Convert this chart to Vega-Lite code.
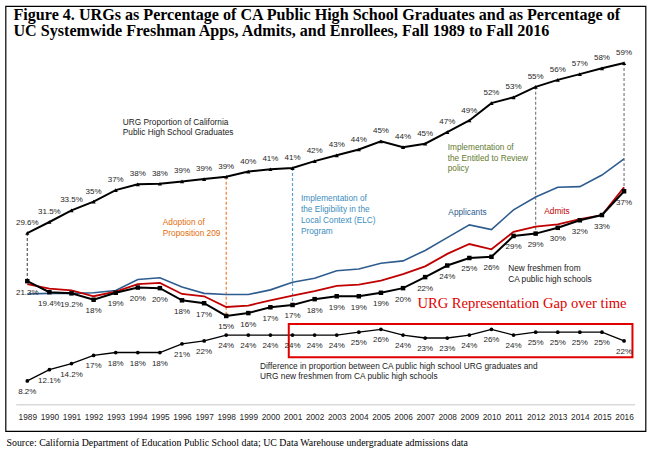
{
  "$schema": "https://vega.github.io/schema/vega-lite/v6.json",
  "width": 640,
  "height": 425,
  "autosize": {"type": "none"},
  "padding": {"left": 5.5, "top": 6, "right": 6.5, "bottom": 34},
  "background": "white",
  "config": {"view": {"stroke": "#000", "strokeWidth": 1.2}, "font": "Liberation Sans"},
  "title": {
    "text": ["Figure 4. URGs as Percentage of CA Public High School Graduates and as Percentage of", "UC Systemwide Freshman Apps, Admits, and Enrollees, Fall 1989 to Fall 2016"],
    "anchor": "start",
    "frame": "group",
    "font": "Liberation Serif",
    "fontSize": 16.1,
    "fontWeight": "bold",
    "color": "#000",
    "lineHeight": 16,
    "baseline": "top",
    "offset": -33.5,
    "dx": 8
  },
  "datasets": {
    "main": [
      {"year": 1989, "grad": 29.6, "grad_label": "29.6%", "fresh": 21.3, "fresh_label": "21.3%", "apps": 19.1, "admits": 20.8, "gap": 8.2, "gap_label": "8.2%"},
      {"year": 1990, "grad": 31.5, "grad_label": "31.5%", "fresh": 19.4, "fresh_label": "19.4%", "apps": 19.2, "admits": 20.0, "gap": 12.1, "gap_label": "12.1%"},
      {"year": 1991, "grad": 33.5, "grad_label": "33.5%", "fresh": 19.2, "fresh_label": "19.2%", "apps": 19.2, "admits": 19.7, "gap": 14.2, "gap_label": "14.2%"},
      {"year": 1992, "grad": 35, "grad_label": "35%", "fresh": 18.1, "fresh_label": "18%", "apps": 19.3, "admits": 18.7, "gap": 17, "gap_label": "17%"},
      {"year": 1993, "grad": 37, "grad_label": "37%", "fresh": 19.3, "fresh_label": "19%", "apps": 19.7, "admits": 19.5, "gap": 18, "gap_label": "18%"},
      {"year": 1994, "grad": 38, "grad_label": "38%", "fresh": 20.2, "fresh_label": "20%", "apps": 21.6, "admits": 20.8, "gap": 18, "gap_label": "18%"},
      {"year": 1995, "grad": 38.1, "grad_label": "38%", "fresh": 20.1, "fresh_label": "20%", "apps": 21.9, "admits": 21.0, "gap": 18, "gap_label": "18%"},
      {"year": 1996, "grad": 38.5, "grad_label": "39%", "fresh": 18.0, "fresh_label": "18%", "apps": 20.3, "admits": 19.1, "gap": 21, "gap_label": "21%"},
      {"year": 1997, "grad": 38.9, "grad_label": "39%", "fresh": 17.5, "fresh_label": "17%", "apps": 19.2, "admits": 18.7, "gap": 22, "gap_label": "22%"},
      {"year": 1998, "grad": 39.3, "grad_label": "39%", "fresh": 15.3, "fresh_label": "15%", "apps": 19.0, "admits": 16.85, "gap": 24, "gap_label": "24%"},
      {"year": 1999, "grad": 40.2, "grad_label": "40%", "fresh": 15.8, "fresh_label": "16%", "apps": 19.0, "admits": 17.1, "gap": 24, "gap_label": "24%"},
      {"year": 2000, "grad": 40.6, "grad_label": "41%", "fresh": 16.8, "fresh_label": "17%", "apps": 19.8, "admits": 18.0, "gap": 24, "gap_label": "24%"},
      {"year": 2001, "grad": 40.8, "grad_label": "41%", "fresh": 17.2, "fresh_label": "17%", "apps": 21.1, "admits": 18.8, "gap": 24, "gap_label": "24%"},
      {"year": 2002, "grad": 42, "grad_label": "42%", "fresh": 18.2, "fresh_label": "18%", "apps": 21.8, "admits": 19.6, "gap": 24, "gap_label": "24%"},
      {"year": 2003, "grad": 43, "grad_label": "43%", "fresh": 18.7, "fresh_label": "19%", "apps": 23.1, "admits": 20.5, "gap": 24, "gap_label": "24%"},
      {"year": 2004, "grad": 44, "grad_label": "44%", "fresh": 18.7, "fresh_label": "19%", "apps": 23.4, "admits": 20.7, "gap": 25, "gap_label": "25%"},
      {"year": 2005, "grad": 45.4, "grad_label": "45%", "fresh": 19.3, "fresh_label": "19%", "apps": 24.4, "admits": 21.4, "gap": 26, "gap_label": "26%"},
      {"year": 2006, "grad": 44.4, "grad_label": "44%", "fresh": 20.1, "fresh_label": "20%", "apps": 24.8, "admits": 22.5, "gap": 24, "gap_label": "24%"},
      {"year": 2007, "grad": 45, "grad_label": "45%", "fresh": 22.0, "fresh_label": "22%", "apps": 26.6, "admits": 23.85, "gap": 23, "gap_label": "23%"},
      {"year": 2008, "grad": 47, "grad_label": "47%", "fresh": 24.0, "fresh_label": "24%", "apps": 28.8, "admits": 26.0, "gap": 23, "gap_label": "23%"},
      {"year": 2009, "grad": 49, "grad_label": "49%", "fresh": 25.3, "fresh_label": "25%", "apps": 31.0, "admits": 27.7, "gap": 24, "gap_label": "24%"},
      {"year": 2010, "grad": 52, "grad_label": "52%", "fresh": 25.5, "fresh_label": "26%", "apps": 30.2, "admits": 26.8, "gap": 26, "gap_label": "26%"},
      {"year": 2011, "grad": 53, "grad_label": "53%", "fresh": 29.1, "fresh_label": "29%", "apps": 33.6, "admits": 29.8, "gap": 24, "gap_label": "24%"},
      {"year": 2012, "grad": 54.8, "grad_label": "55%", "fresh": 29.5, "fresh_label": "29%", "apps": 35.8, "admits": 30.7, "gap": 25, "gap_label": "25%"},
      {"year": 2013, "grad": 56, "grad_label": "56%", "fresh": 30.5, "fresh_label": "30%", "apps": 37.5, "admits": 31.1, "gap": 25, "gap_label": "25%"},
      {"year": 2014, "grad": 57, "grad_label": "57%", "fresh": 31.8, "fresh_label": "32%", "apps": 37.6, "admits": 32.0, "gap": 25, "gap_label": "25%"},
      {"year": 2015, "grad": 58, "grad_label": "58%", "fresh": 32.7, "fresh_label": "33%", "apps": 39.6, "admits": 32.7, "gap": 25, "gap_label": "25%"},
      {"year": 2016, "grad": 58.9, "grad_label": "59%", "fresh": 36.8, "fresh_label": "37%", "apps": 42.4, "admits": 37.5, "gap": 22, "gap_label": "22%"}
    ],
    "markers": [
      {"year": 1989, "top": 29.6, "bottom": 21.3, "policy": "Start"},
      {"year": 1998, "top": 39.3, "bottom": 15.3, "policy": "Proposition 209"},
      {"year": 2001, "top": 40.8, "bottom": 17.2, "policy": "ELC"},
      {"year": 2012, "top": 54.8, "bottom": 29.5, "policy": "Entitled to Review"},
      {"year": 2016, "top": 58.9, "bottom": 36.8, "policy": "End"}
    ],
    "notes": [
      {"text": "URG Proportion of California", "year": 1993.32, "v": 48.5, "note": "Graduates"},
      {"text": "Public High School Graduates", "year": 1993.32, "v": 46.8, "note": "Graduates"},
      {"text": "Adoption of", "year": 1995.13, "v": 31.3, "note": "Proposition 209"},
      {"text": "Proposition 209", "year": 1995.13, "v": 29.45, "note": "Proposition 209"},
      {"text": "Implementation of", "year": 2001.38, "v": 35.4, "note": "ELC"},
      {"text": "the Eligibility in the", "year": 2001.38, "v": 33.55, "note": "ELC"},
      {"text": "Local Context (ELC)", "year": 2001.38, "v": 31.6, "note": "ELC"},
      {"text": "Program", "year": 2001.38, "v": 29.7, "note": "ELC"},
      {"text": "Implementation of", "year": 2008.02, "v": 44.2, "note": "Entitled to Review"},
      {"text": "the Entitled to Review", "year": 2008.02, "v": 42.35, "note": "Entitled to Review"},
      {"text": "policy", "year": 2008.02, "v": 40.6, "note": "Entitled to Review"},
      {"text": "Applicants", "year": 2008.05, "v": 33.0, "note": "Applicants"},
      {"text": "Admits", "year": 2012.39, "v": 33.15, "note": "Admits"},
      {"text": "New freshmen from", "year": 2010.76, "v": 23.35, "note": "Freshmen"},
      {"text": "CA public high schools", "year": 2010.76, "v": 21.5, "note": "Freshmen"},
      {"text": "Difference in proportion between CA public high school URG graduates and", "year": 1999.53, "v": 6.55, "note": "Difference"},
      {"text": "URG new freshmen from CA public high schools", "year": 1999.53, "v": 4.72, "note": "Difference"}
    ]
  },
  "data": {"name": "main"},
  "encoding": {
    "x": {
      "field": "year",
      "type": "quantitative",
      "scale": {"domain": [1988.014, 2016.97], "nice": false, "zero": false},
      "axis": {
        "values": [1989, 1990, 1991, 1992, 1993, 1994, 1995, 1996, 1997, 1998, 1999, 2000, 2001, 2002, 2003, 2004, 2005, 2006, 2007, 2008, 2009, 2010, 2011, 2012, 2013, 2014, 2015, 2016],
        "format": "d",
        "grid": false,
        "domain": false,
        "ticks": false,
        "labelFont": "Liberation Sans",
        "labelFontSize": 8.3,
        "labelColor": "#262626",
        "labelPadding": 7,
        "labelFlush": false,
        "labelOverlap": false,
        "offset": -26,
        "title": "Source: California Department of Education Public School data; UC Data Warehouse undergraduate admissions data",
        "titleFont": "Liberation Serif",
        "titleFontWeight": "normal",
        "titleFontSize": 9.9,
        "titleColor": "#000",
        "titleX": 0.5,
        "titleY": 40.5,
        "titleAlign": "left",
        "titleAnchor": "start",
        "titleBaseline": "alphabetic"
      }
    }
  },
  "resolve": {"scale": {"y": "independent"}},
  "layer": [
    {
      "data": {"values": [{"year": 1988.5, "year2": 2016.5, "v": 0}]},
      "mark": {"type": "rule", "color": "#D9D9D9", "strokeWidth": 1.5},
      "encoding": {
        "x2": {"field": "year2"},
        "y": {"field": "v", "type": "quantitative", "scale": {"domain": [-4.53, 68.74], "nice": false, "zero": false}, "axis": null}
      }
    },
    {
      "data": {"name": "markers"},
      "mark": {"type": "rule", "strokeDash": [3, 2], "strokeWidth": 1.2},
      "encoding": {
        "y": {"field": "top", "type": "quantitative", "scale": {"domain": [-4.53, 68.74], "nice": false, "zero": false}, "axis": null},
        "y2": {"field": "bottom"},
        "stroke": {"field": "policy", "type": "nominal", "scale": {"domain": ["Start", "Proposition 209", "ELC", "Entitled to Review", "End"], "range": ["#595959", "#ED7D31", "#5BA3CF", "#7F7F7F", "#7F7F7F"]}, "legend": null}
      }
    },
    {
      "mark": {"type": "line", "color": "#2E5C8F", "strokeWidth": 1.6},
      "encoding": {
        "y": {"field": "apps", "type": "quantitative", "scale": {"domain": [-4.53, 68.74], "nice": false, "zero": false}, "axis": null}
      }
    },
    {
      "mark": {"type": "line", "color": "#C00000", "strokeWidth": 1.8},
      "encoding": {
        "y": {"field": "admits", "type": "quantitative", "scale": {"domain": [-4.53, 68.74], "nice": false, "zero": false}, "axis": null}
      }
    },
    {
      "mark": {"type": "line", "color": "#000", "strokeWidth": 2, "point": {"shape": "square", "size": 20, "filled": true, "color": "#000"}},
      "encoding": {
        "y": {"field": "fresh", "type": "quantitative", "scale": {"domain": [-4.53, 68.74], "nice": false, "zero": false}, "axis": null}
      }
    },
    {
      "mark": {"type": "line", "color": "#000", "strokeWidth": 2, "point": {"shape": "triangle-up", "size": 18, "filled": true, "color": "#000"}},
      "encoding": {
        "y": {"field": "grad", "type": "quantitative", "scale": {"domain": [-4.53, 68.74], "nice": false, "zero": false}, "axis": null}
      }
    },
    {
      "mark": {"type": "line", "color": "#000", "strokeWidth": 1.3, "point": {"shape": "circle", "size": 14, "filled": true, "color": "#000"}},
      "encoding": {
        "y": {"field": "gap", "type": "quantitative", "scale": {"domain": [-9.06, 137.48], "nice": false, "zero": false}, "axis": null}
      }
    },
    {
      "data": {"values": [{"year": 2000.83, "year2": 2016.38, "v": 13.91, "v2": 8.17}]},
      "mark": {"type": "rect", "fill": null, "fillOpacity": 0, "stroke": "#E00000", "strokeWidth": 2},
      "encoding": {
        "x2": {"field": "year2"},
        "y": {"field": "v", "type": "quantitative", "scale": {"domain": [-4.53, 68.74], "nice": false, "zero": false}, "axis": null},
        "y2": {"field": "v2"}
      }
    },
    {
      "mark": {"type": "text", "font": "Liberation Sans", "fontSize": 8, "color": "#262626", "dy": 11.5, "baseline": "middle"},
      "encoding": {
        "y": {"field": "fresh", "type": "quantitative", "scale": {"domain": [-4.53, 68.74], "nice": false, "zero": false}, "axis": null},
        "text": {"field": "fresh_label"}
      }
    },
    {
      "mark": {"type": "text", "font": "Liberation Sans", "fontSize": 8, "color": "#262626", "dy": -10, "baseline": "middle"},
      "encoding": {
        "y": {"field": "grad", "type": "quantitative", "scale": {"domain": [-4.53, 68.74], "nice": false, "zero": false}, "axis": null},
        "text": {"field": "grad_label"}
      }
    },
    {
      "mark": {"type": "text", "font": "Liberation Sans", "fontSize": 8, "color": "#262626", "dy": 11, "baseline": "middle"},
      "encoding": {
        "y": {"field": "gap", "type": "quantitative", "scale": {"domain": [-9.06, 137.48], "nice": false, "zero": false}, "axis": null},
        "text": {"field": "gap_label"}
      }
    },
    {
      "data": {"name": "notes"},
      "mark": {"type": "text", "font": "Liberation Sans", "fontSize": 8.3, "align": "left", "baseline": "middle"},
      "encoding": {
        "y": {"field": "v", "type": "quantitative", "scale": {"domain": [-4.53, 68.74], "nice": false, "zero": false}, "axis": null},
        "text": {"field": "text"},
        "fill": {"field": "note", "type": "nominal", "scale": {"domain": ["Graduates", "Proposition 209", "ELC", "Entitled to Review", "Applicants", "Admits", "Freshmen", "Difference"], "range": ["#1a1a1a", "#E46C0A", "#3C8DBC", "#5F7A30", "#2E5C8F", "#C00000", "#1a1a1a", "#1a1a1a"]}, "legend": null}
      }
    },
    {
      "data": {"values": [{"text": "URG Representation Gap over time", "year": 2006.65, "v": 17.3}]},
      "mark": {"type": "text", "font": "Liberation Serif", "fontSize": 14.6, "color": "#E00000", "align": "left", "baseline": "middle"},
      "encoding": {
        "y": {"field": "v", "type": "quantitative", "scale": {"domain": [-4.53, 68.74], "nice": false, "zero": false}, "axis": null},
        "text": {"field": "text"}
      }
    }
  ]
}
